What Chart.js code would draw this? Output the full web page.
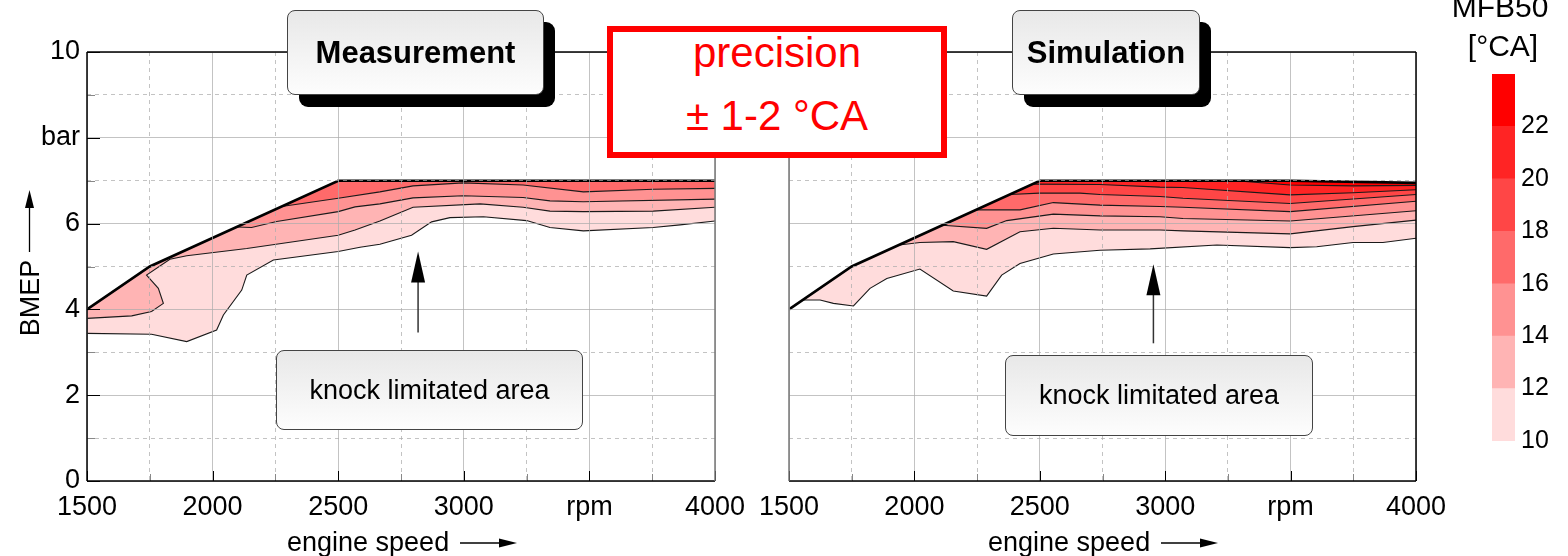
<!DOCTYPE html>
<html>
<head>
<meta charset="utf-8">
<script src="https://cdn.jsdelivr.net/npm/chart.js@4.4.1/dist/chart.umd.min.js"></script>
<style>
  body { margin: 0; background: #fff; width: 1568px; height: 556px; overflow: hidden; position: relative;
         font-family: "Liberation Sans", Arial, sans-serif; }
  canvas { position: absolute; top: 0; }
  #cMeas { left: 0; }
  #cSim { left: 740px; }
  #cBar { left: 1440px; }
  .shadow { position: absolute; background: #000; border-radius: 9px; }
  .tag { position: absolute; box-sizing: border-box; border: 1px solid #444; border-radius: 8px;
         background: linear-gradient(#e8e8e8, #fdfdfd); color: #000;
         display: flex; align-items: center; justify-content: center; }
  .title { font-weight: bold; font-size: 31px; }
  .knock { font-size: 27px; }
  .precision { position: absolute; box-sizing: border-box; left: 607px; top: 26px; width: 340px; height: 132px;
               border: 6px solid #ff0000; background: #fff; }
  .ptext { position: absolute; left: 607px; width: 340px; text-align: center; color: #ff0000;
           font-size: 42px; line-height: 42px; }
</style>
</head>
<body>
<canvas id="cMeas" width="760" height="556"></canvas>
<canvas id="cSim" width="720" height="556"></canvas>
<canvas id="cBar" width="128" height="556"></canvas>

<div class="shadow" style="left:299px;top:22px;width:256px;height:85px"></div>
<div class="tag title" style="left:287px;top:10px;width:257px;height:85px">Measurement</div>
<div class="shadow" style="left:1024px;top:22px;width:187px;height:85px"></div>
<div class="tag title" style="left:1012px;top:10px;width:188px;height:85px">Simulation</div>

<div class="precision"></div>
<div class="ptext" style="top:32px">precision</div>
<div class="ptext" style="top:95px">± 1-2 °CA</div>

<div class="tag knock" style="left:276px;top:350px;width:307px;height:80px">knock limitated area</div>
<div class="tag knock" style="left:1005px;top:355px;width:308px;height:81px">knock limitated area</div>

<script>
Chart.defaults.font.family = '"Liberation Sans", Arial, sans-serif';
Chart.defaults.color = '#000';

// axes
var speedTicks  = [1500, 2000, 2500, 3000, 3500, 4000];
var speedLabels = ['1500', '2000', '2500', '3000', 'rpm', '4000'];
var bmepTicks   = [0, 2, 4, 6, 8, 10];
var bmepLabels  = ['0', '2', '4', '6', 'bar', '10'];

// MFB50 levels [°CA] and band colours (10-12, 12-14, ... 22-24)
var mfbLevels  = [10, 12, 14, 16, 18, 20, 22, 24];
var bandColors = ['#ffdcdc', '#ffb4b4', '#ff9292', '#ff6a6a', '#ff4646', '#ff2424', '#ff0000'];

// measurement: full load line and iso-MFB50 lines, [rpm, bar]
var measFullLoad = [[1500, 4.0], [1750, 5.0], [2500, 7.0], [4000, 7.0]];
var measMfb10 = [[1500, 3.44], [1757, 3.42], [1897, 3.25], [2016, 3.52], [2043, 3.87], [2116, 4.45], [2136, 4.8],
                 [2242, 5.15], [2500, 5.35], [2587, 5.45], [2666, 5.52], [2792, 5.73], [2872, 6.04], [2945, 6.14],
                 [3078, 6.16], [3250, 6.07], [3343, 5.91], [3476, 5.83], [3754, 5.91], [3861, 5.97], [4000, 6.06]];
var measMfb12 = [[1500, 3.79], [1678, 3.85], [1757, 3.95], [1804, 4.14], [1784, 4.49], [1737, 4.8], [1830, 5.17],
                 [1897, 5.25], [2136, 5.42], [2500, 5.73], [2567, 5.85], [2666, 6.06], [2798, 6.38], [3065, 6.46],
                 [3236, 6.38], [3343, 6.29], [3476, 6.28], [3754, 6.29], [4000, 6.38]];
var measMfb14 = [[2096, 5.92], [2155, 5.91], [2255, 6.05], [2500, 6.28], [2567, 6.39], [2666, 6.46], [2798, 6.6],
                 [2997, 6.65], [3236, 6.61], [3343, 6.53], [3476, 6.51], [4000, 6.57]];
var measMfb16 = [[2275, 6.4], [2500, 6.59], [2666, 6.74], [2798, 6.88], [2997, 6.95], [3236, 6.9], [3476, 6.74],
                 [3754, 6.8], [4000, 6.82]];

// simulation
var simFullLoad = [[1500, 4.0], [1750, 5.0], [2500, 7.0], [3500, 7.0], [4000, 6.95]];
var simMfb10 = [[1555, 4.22], [1624, 4.22], [1677, 4.14], [1757, 4.08], [1823, 4.49], [1890, 4.72], [2022, 4.94],
                [2155, 4.43], [2288, 4.31], [2348, 4.8], [2421, 5.07], [2554, 5.29], [2740, 5.38], [2940, 5.41],
                [3206, 5.5], [3498, 5.44], [3604, 5.46], [3749, 5.56], [3868, 5.56], [4000, 5.66]];
var simMfb12 = [[1940, 5.5], [2022, 5.56], [2155, 5.58], [2288, 5.4], [2421, 5.81], [2554, 5.89], [2740, 5.85],
                [2979, 5.85], [3071, 5.83], [3498, 5.76], [3749, 5.93], [4000, 6.08]];
var simMfb14 = [[2112, 5.96], [2288, 5.89], [2368, 6.07], [2554, 6.22], [2740, 6.18], [2979, 6.16], [3071, 6.12],
                [3498, 6.06], [4000, 6.3]];
var simMfb16 = [[2248, 6.32], [2421, 6.32], [2554, 6.49], [2740, 6.43], [2979, 6.4], [3071, 6.38], [3498, 6.28],
                [4000, 6.52]];
var simMfb18 = [[2381, 6.68], [2498, 6.71], [2660, 6.71], [2740, 6.68], [2979, 6.63], [3071, 6.59], [3498, 6.47],
                [4000, 6.68]];
var simMfb20 = [[2470, 6.92], [2740, 6.91], [2979, 6.85], [3071, 6.84], [3498, 6.67], [3750, 6.72], [4000, 6.79]];
var simMfb22 = [[3280, 7.0], [3498, 6.9], [3750, 6.88], [4000, 6.89]];

// knock arrows: rpm, bar at tail, bar at tip
var measArrow = [2818, 3.46, 5.35];
var simArrow  = [2953, 3.21, 5.05];

function toXY(line) {
    return line.map(function (p) { return {x: p[0], y: p[1]}; });
}

function fullLoadAt(fl, rpm) {
    for (var i = 1; i < fl.length; i++) {
        if (rpm <= fl[i][0]) {
            var a = fl[i - 1], b = fl[i];
            return a[1] + (b[1] - a[1]) * (rpm - a[0]) / (b[0] - a[0]);
        }
    }
    return fl[fl.length - 1][1];
}

// region above an iso line, closed along the full load line
function bandShape(line, fl) {
    var pts = toXY(line);
    var x0 = line[0][0], x1 = line[line.length - 1][0];
    pts.push({x: x1, y: fullLoadAt(fl, x1)});
    for (var i = fl.length - 1; i >= 0; i--) {
        if (fl[i][0] < x1 && fl[i][0] > x0) pts.push({x: fl[i][0], y: fl[i][1]});
    }
    pts.push({x: x0, y: fullLoadAt(fl, x0)});
    return pts;
}

function tickLabel(ticks, labels) {
    return function (v) {
        var i = ticks.indexOf(v);
        return i < 0 ? '' : labels[i];
    };
}

function drawArrowHead(ctx, x, y, dx, dy, len, half) {
    // tip at x,y pointing along dx,dy
    var px = -dy, py = dx;
    ctx.beginPath();
    ctx.moveTo(x, y);
    ctx.lineTo(x - dx * len + px * half, y - dy * len + py * half);
    ctx.lineTo(x - dx * len - px * half, y - dy * len - py * half);
    ctx.closePath();
    ctx.fill();
}

function makePanel(id, fullLoad, lines, arrow, cfg) {
    var sets = [];
    lines.forEach(function (line, i) {
        sets.push({data: bandShape(line, fullLoad), fill: 'shape', backgroundColor: bandColors[i],
                   borderWidth: 0, pointRadius: 0, order: 20 - i});
    });
    lines.forEach(function (line) {
        sets.push({data: toXY(line), fill: false, borderColor: '#1a1a1a', borderWidth: 1.1,
                   pointRadius: 0, order: 1});
    });
    sets.push({data: toXY(fullLoad), fill: false, borderColor: '#000', borderWidth: 2.6,
               pointRadius: 0, order: 0});

    var decor = {
        id: 'decor' + id,
        afterDraw: function (chart) {
            var ctx = chart.ctx, a = chart.chartArea, x = chart.scales.x, y = chart.scales.y;
            ctx.save();
            ctx.lineWidth = 1;
            // tick marks pointing into the plot
            x.ticks.forEach(function (t) {
                var px = Math.round(x.getPixelForValue(t.value)) + 0.5;
                var major = t.value % 500 === 0;
                ctx.strokeStyle = major ? '#000' : '#888';
                ctx.beginPath();
                ctx.moveTo(px, a.bottom);
                ctx.lineTo(px, a.bottom - (major ? 10 : 7));
                ctx.stroke();
            });
            if (cfg.yTicks) {
                y.ticks.forEach(function (t) {
                    var py = Math.round(y.getPixelForValue(t.value)) + 0.5;
                    var major = t.value % 2 === 0;
                    ctx.strokeStyle = major ? '#000' : '#888';
                    ctx.beginPath();
                    ctx.moveTo(a.left, py);
                    ctx.lineTo(a.left + (major ? 13 : 8), py);
                    ctx.stroke();
                });
            }
            // frame
            function edge(x1, y1, x2, y2, c, w) {
                ctx.strokeStyle = c;
                ctx.lineWidth = w;
                ctx.beginPath();
                ctx.moveTo(x1, y1);
                ctx.lineTo(x2, y2);
                ctx.stroke();
            }
            edge(a.left, a.top, a.right, a.top, '#000', 1.5);
            edge(a.left, a.bottom, a.right, a.bottom, '#000', 1.5);
            edge(a.left, a.top, a.left, a.bottom, cfg.leftEdge, 1.5);
            edge(a.right, a.top, a.right, a.bottom, cfg.rightEdge, 1.5);

            // arrow towards the knock limit
            var ax = x.getPixelForValue(arrow[0]);
            var ay0 = y.getPixelForValue(arrow[1]), ay1 = y.getPixelForValue(arrow[2]);
            ctx.strokeStyle = '#333';
            ctx.fillStyle = '#000';
            ctx.lineWidth = 1.5;
            ctx.beginPath();
            ctx.moveTo(ax, ay0);
            ctx.lineTo(ax, ay1 + 20);
            ctx.stroke();
            drawArrowHead(ctx, ax, ay1, 0, -1, 31, 7);

            // axis titles
            ctx.font = '27px "Liberation Sans", Arial, sans-serif';
            ctx.textAlign = 'left';
            ctx.textBaseline = 'alphabetic';
            ctx.fillText('engine speed', cfg.xTitle, 551);
            ctx.strokeStyle = '#000';
            ctx.lineWidth = 1.3;
            ctx.beginPath();
            ctx.moveTo(cfg.xTitle + 173, 543);
            ctx.lineTo(cfg.xTitle + 215, 543);
            ctx.stroke();
            drawArrowHead(ctx, cfg.xTitle + 230, 543, 1, 0, 18, 4.5);
            if (cfg.yTitle) {
                ctx.save();
                ctx.translate(39, 298);
                ctx.rotate(-Math.PI / 2);
                ctx.textAlign = 'center';
                ctx.fillText('BMEP', 0, 0);
                ctx.restore();
                ctx.beginPath();
                ctx.moveTo(29.5, 252);
                ctx.lineTo(29.5, 205);
                ctx.stroke();
                drawArrowHead(ctx, 29.5, 190, 0, -1, 18, 4.5);
            }
            ctx.restore();
        }
    };

    var gridColor = 'rgba(172,172,172,0.72)';
    return new Chart(document.getElementById(id), {
        type: 'line',
        data: {datasets: sets},
        options: {
            responsive: false,
            animation: false,
            events: [],
            layout: {padding: {left: 0, top: 52, right: cfg.padRight, bottom: 0}},
            plugins: {legend: {display: false}, tooltip: {enabled: false}},
            scales: {
                x: {
                    type: 'linear', min: 1500, max: 4000,
                    grid: {color: gridColor, drawTicks: false, z: 1},
                    border: {display: false, dash: function (c) { return c.tick && c.tick.value % 500 ? [4, 4] : []; }},
                    ticks: {stepSize: 250, autoSkip: false, maxRotation: 0, padding: 10, font: {size: 27},
                            callback: tickLabel(speedTicks, speedLabels)},
                    afterFit: function (s) { s.height = 75; }
                },
                y: {
                    type: 'linear', min: 0, max: 10,
                    grid: {color: gridColor, drawTicks: false, z: 1},
                    border: {display: false, dash: function (c) { return c.tick && c.tick.value % 2 ? [4, 4] : []; }},
                    ticks: {stepSize: 1, autoSkip: false, padding: 7, font: {size: 27}, display: cfg.yLabels,
                            callback: tickLabel(bmepTicks, bmepLabels)},
                    afterFit: function (s) { s.width = cfg.yWidth; }
                }
            }
        },
        plugins: [decor]
    });
}

makePanel('cMeas', measFullLoad, [measMfb10, measMfb12, measMfb14, measMfb16], measArrow,
          {padRight: 45, yWidth: 87, yLabels: true, yTicks: true, yTitle: true,
           leftEdge: '#000', rightEdge: '#777', xTitle: 287});
makePanel('cSim', simFullLoad, [simMfb10, simMfb12, simMfb14, simMfb16, simMfb18, simMfb20, simMfb22], simArrow,
          {padRight: 44, yWidth: 49, yLabels: false, yTicks: false, yTitle: false,
           leftEdge: '#777', rightEdge: '#000', xTitle: 248});

// colour bar
var barTitle = {
    id: 'barTitle',
    afterDraw: function (chart) {
        var ctx = chart.ctx;
        ctx.save();
        ctx.fillStyle = '#000';
        ctx.font = '30px "Liberation Sans", Arial, sans-serif';
        ctx.textAlign = 'center';
        ctx.textBaseline = 'alphabetic';
        ctx.fillText('MFB50', 60, 17);
        ctx.fillText('[°CA]', 63, 56);
        ctx.restore();
    }
};

new Chart(document.getElementById('cBar'), {
    type: 'bar',
    data: {
        labels: [''],
        datasets: bandColors.map(function (c, i) {
            return {data: [[mfbLevels[i], mfbLevels[i + 1]]], backgroundColor: c, borderWidth: 0,
                    grouped: false, barPercentage: 1, categoryPercentage: 1};
        })
    },
    options: {
        responsive: false,
        animation: false,
        events: [],
        layout: {padding: {left: 52, top: 74, right: 0, bottom: 115}},
        plugins: {legend: {display: false}, tooltip: {enabled: false}},
        scales: {
            x: {display: false},
            y: {
                position: 'right', min: 10, max: 24,
                grid: {display: false, drawTicks: false}, border: {display: false},
                ticks: {stepSize: 2, padding: 6, font: {size: 25},
                        callback: function (v) { return v < 24 ? String(v) : ''; }},
                afterFit: function (s) { s.width = 53; }
            }
        }
    },
    plugins: [barTitle]
});
</script>
</body>
</html>
